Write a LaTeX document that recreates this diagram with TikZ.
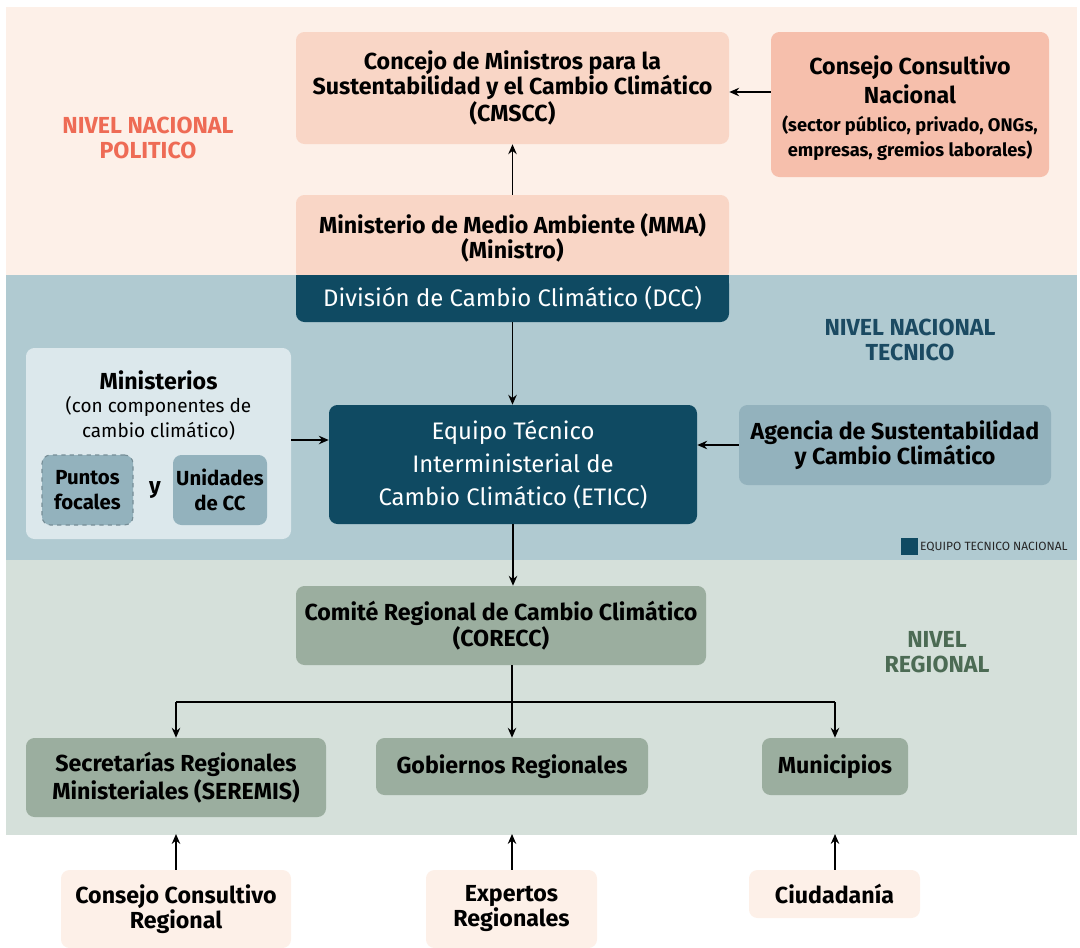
\documentclass[tikz,border=0pt]{standalone}
\usepackage{fontspec}
\setmainfont{Fira Sans}
\usetikzlibrary{arrows.meta}
\definecolor{bandtop}{HTML}{FDF0E8}
\definecolor{peach}{HTML}{F9D6C6}
\definecolor{salmon}{HTML}{F6BFAC}
\definecolor{politico}{HTML}{EE6B55}
\definecolor{bandblue}{HTML}{B0CAD1}
\definecolor{darkblue}{HTML}{0F4A62}
\definecolor{paleblue}{HTML}{DCE8EC}
\definecolor{midblue}{HTML}{93B2BD}
\definecolor{tecnico}{HTML}{1B4A62}
\definecolor{bandgreen}{HTML}{D5E0DA}
\definecolor{sage}{HTML}{9BAE9F}
\definecolor{regional}{HTML}{4C6B54}
\tikzset{
  box/.style={rounded corners=6pt, inner sep=0pt, align=center, font=\fontsize{16.5}{17.8}\selectfont\bfseries},
  sz/.style n args={2}{minimum width=#1*0.025cm, minimum height=#2*0.025cm},
  arr/.style={-{Stealth[length=7pt,width=6pt]}, line width=1.3pt, black},
  ln/.style={line width=1.3pt, black},
  level/.style={align=center, font=\fontsize{16.5}{17.8}\selectfont\bfseries},
}
\begin{document}
\begin{tikzpicture}[x=0.025cm,y=-0.025cm]
\useasboundingbox (0,0) rectangle (1080,948);
% bands
\fill[bandtop] (6,7) rectangle (1077,275);
\fill[bandblue] (6,275) rectangle (1077,560);
\fill[bandgreen] (6,560) rectangle (1077,835);

% level labels
\node[level, text=politico] (lvpol) at (148,138) {NIVEL NACIONAL\\POLITICO};
\node[level, text=tecnico] (lvtec) at (910,340) {NIVEL NACIONAL\\TECNICO};
\node[level, text=regional] (lvreg) at (937,652) {NIVEL\\REGIONAL};

% national political
\node[box, fill=peach, sz={433}{112}] (cmscc) at (512.5,88) {Concejo de Ministros para la\\Sustentabilidad y el Cambio Climático\\(CMSCC)};
\node[box, fill=salmon, sz={278}{145}] (ccn) at (910,104.5) {};
\node[align=center, font=\fontsize{16.5}{21}\selectfont\bfseries] (ccnt) at (910,80) {Consejo Consultivo\\Nacional};
\node[align=center, font=\fontsize{13}{17.8}\selectfont\bfseries] (ccns) at (910,138) {(sector público, privado, ONGs,\\empresas, gremios laborales)};
\draw[arr] (ccn.west |- 0,92) -- (cmscc.east |- 0,92);

\node[box, fill=peach, sz={433}{85}] (mma) at (512.5,237.5) {Ministerio de Medio Ambiente (MMA)\\(Ministro)};
\node[box, fill=darkblue, sz={433}{47}] (dcc) at (512.5,298.5) {};
\fill[darkblue] (296,275) rectangle (729,290);
\node[text=white, font=\fontsize{17}{18}\selectfont] (dcct) at (512.5,298.5) {División de Cambio Climático (DCC)};
\draw[arr] (mma.north) -- (cmscc.south);

% national technical
\node[box, fill=darkblue, text=white, font=\fontsize{17}{23.4}\selectfont, sz={368}{119}] (eticc) at (513,464.5) {Equipo Técnico\\Interministerial de\\Cambio Climático (ETICC)};
\draw[arr] (dcc.south) -- (dcc.south |- eticc.north);

\node[box, fill=paleblue, sz={265}{191}] (min) at (158.5,443.5) {};
\node[align=center, font=\fontsize{16.5}{17.8}\selectfont\bfseries] (mint) at (158.5,380) {Ministerios};
\node[align=center, font=\fontsize{13.5}{17.8}\selectfont] (mins) at (158.5,418) {(con componentes de\\cambio climático)};
\node[box, fill=midblue, draw=midblue!80!black, dashed, line width=0.8pt, font=\fontsize{14.5}{17.5}\selectfont\bfseries, sz={91}{70}] (pf) at (87.5,490) {Puntos\\focales};
\node[box, fill=midblue, font=\fontsize{14.5}{17.5}\selectfont\bfseries, sz={94}{70}] (ucc) at (220,490) {Unidades\\de CC};
\node[font=\fontsize{16}{17}\selectfont\bfseries] (y) at (155,490) {y};
\draw[arr] (min.east |- 0,440) -- (eticc.west |- 0,440);

\node[box, fill=midblue, sz={312}{80}] (agencia) at (895,445) {Agencia de Sustentabilidad\\y Cambio Climático};
\draw[arr] (agencia.west) -- (agencia.west -| eticc.east);

% legend
\node[fill=darkblue, minimum size=17*0.025cm, inner sep=0pt] (legsq) at (909,546.5) {};
\node[anchor=west, inner sep=1.5pt, text=black!85, font=\fontsize{8.5}{9}\selectfont] (legt) at (legsq.east) {EQUIPO TECNICO NACIONAL};

% regional
\node[box, fill=sage, sz={410}{79}] (corecc) at (501,625.5) {Comité Regional de Cambio Climático\\(CORECC)};
\draw[arr] (eticc.south) -- (eticc.south |- corecc.north);

\node[box, fill=sage, font=\fontsize{16.5}{19.5}\selectfont\bfseries, sz={300}{79}] (seremis) at (176,777.5) {Secretarías Regionales\\Ministeriales (SEREMIS)};
\node[box, fill=sage, sz={272}{57}] (gob) at (512,766.5) {Gobiernos Regionales};
\node[box, fill=sage, sz={146}{57}] (muni) at (835,766.5) {Municipios};

\coordinate (split) at (512,702);
\draw[ln] (gob.north |- corecc.south) -- (split);
\draw[ln] (seremis.north |- split) -- (muni.north |- split);
\draw[arr] (split) -- (gob.north);
\draw[arr] (seremis.north |- split) -- (seremis.north);
\draw[arr] (muni.north |- split) -- (muni.north);

% bottom
\node[box, fill=bandtop, sz={230}{78}] (ccr) at (176,909) {Consejo Consultivo\\Regional};
\node[box, fill=bandtop, sz={171}{78}] (exp) at (511.5,909) {Expertos\\Regionales};
\node[box, fill=bandtop, sz={171}{48}] (ciu) at (834.5,894) {Ciudadanía};
\coordinate (bandedge) at (0,834);
\draw[arr] (ccr.north -| seremis.north) -- (seremis.north |- bandedge);
\draw[arr] (exp.north -| gob.north) -- (gob.north |- bandedge);
\draw[arr] (ciu.north -| muni.north) -- (muni.north |- bandedge);
\end{tikzpicture}
\end{document}
